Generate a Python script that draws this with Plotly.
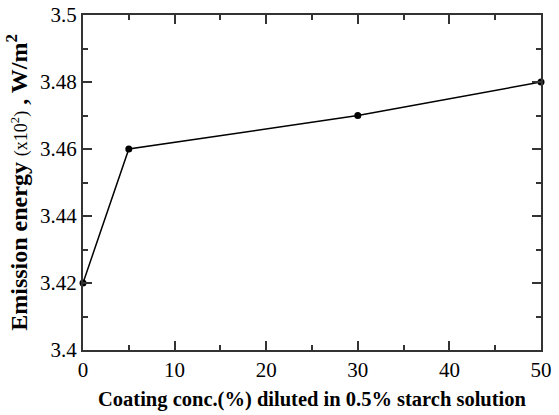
import plotly.graph_objects as go

conc = [0, 5, 30, 50]
energy = [3.42, 3.46, 3.47, 3.48]

x_ticks = [0, 10, 20, 30, 40, 50]
x_labels = ["0", "10", "20", "30", "40", "50"]
y_ticks = [3.40, 3.42, 3.44, 3.46, 3.48, 3.50]
y_labels = ["3.4", "3.42", "3.44", "3.46", "3.48", "3.5"]

serif = "Liberation Serif, Times New Roman, serif"

fig = go.Figure()
fig.add_trace(go.Scatter(
    x=conc, y=energy, mode="lines+markers",
    line=dict(color="black", width=1.5),
    marker=dict(color="black", size=7),
    cliponaxis=False, showlegend=False,
))

axis_common = dict(
    showline=True, linecolor="#333", linewidth=2, mirror="ticks",
    ticks="inside", ticklen=9, tickwidth=1.5, tickcolor="#333",
    showgrid=False, zeroline=False, automargin=False,
    tickfont=dict(family=serif, size=21, color="black"),
)

fig.update_xaxes(
    range=[0, 50], tickvals=x_ticks, ticktext=x_labels,
    minor=dict(ticks="inside", ticklen=5, tickwidth=1.5, tickcolor="#333", dtick=5, tick0=0),
    title=dict(text="<b>Coating conc.(%) diluted in 0.5% starch solution</b>",
               font=dict(family=serif, size=20.5, color="black"), standoff=10),
    **axis_common,
)
fig.update_yaxes(
    range=[3.4, 3.5], tickvals=y_ticks, ticktext=y_labels,
    minor=dict(ticks="inside", ticklen=5, tickwidth=1.5, tickcolor="#333", dtick=0.01, tick0=3.4),
    title=dict(text="<b>Emission energy</b> <span style='font-size:18px'>(x10<sup>2</sup>)</span> <b>, W/m<sup>2</sup></b>",
               font=dict(family=serif, size=24, color="black"), standoff=6),
    **axis_common,
)

fig.update_layout(
    width=559, height=415,
    margin=dict(l=83, r=18, t=15, b=65),
    paper_bgcolor="white", plot_bgcolor="white",
)

fig.write_html("out.html", config={"displayModeBar": False},
               post_script="document.body.style.margin='0px';")
